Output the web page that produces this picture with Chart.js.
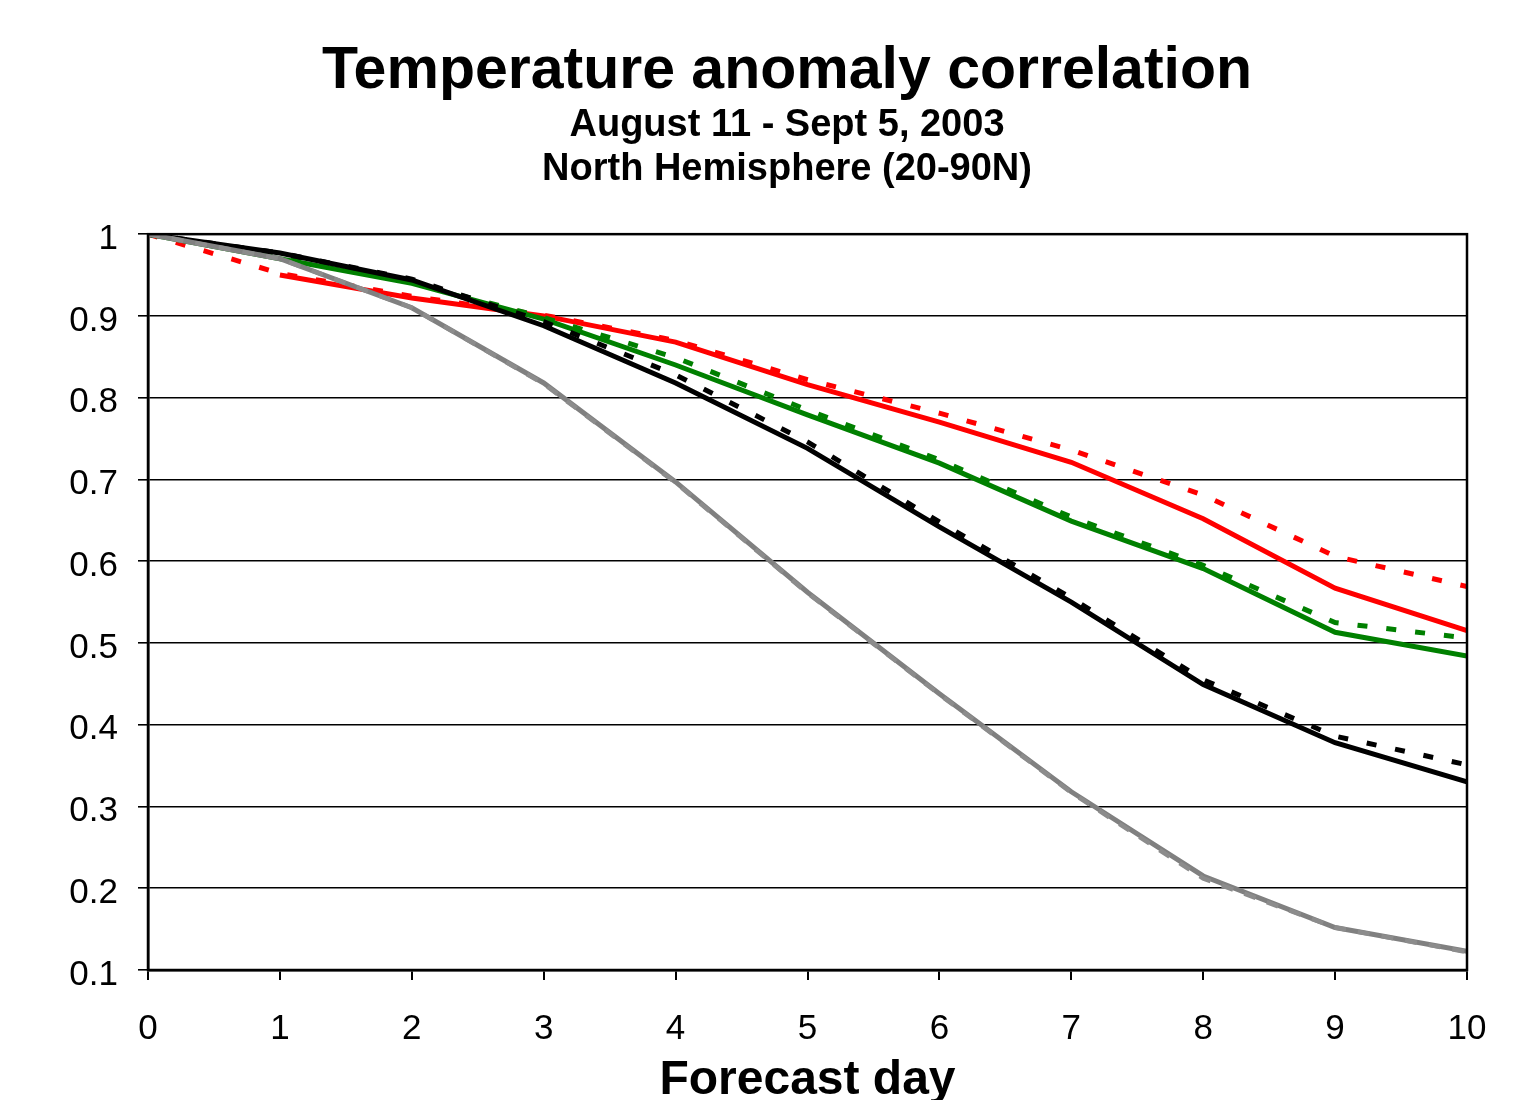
<!DOCTYPE html>
<html>
<head>
<meta charset="utf-8">
<script src="https://cdn.jsdelivr.net/npm/chart.js@4/dist/chart.umd.min.js"></script>
<style>
html,body{margin:0;padding:0;background:#fff;}
#wrap{width:1529px;height:1100px;}
</style>
</head>
<body>
<div id="wrap"><canvas id="c" width="1529" height="1100"></canvas></div>
<script>
const titleText = "Temperature anomaly correlation";
const subtitleLines = ["August 11 - Sept 5, 2003", "North Hemisphere (20-90N)"];
const xTitle = "Forecast day";
const days = [0, 1, 2, 3, 4, 5, 6, 7, 8, 9, 10];
const yTicks = [0.1, 0.2, 0.3, 0.4, 0.5, 0.6, 0.7, 0.8, 0.9, 1];

const redSolid   = [null, 0.950, 0.922, 0.900, 0.868, 0.816, 0.770, 0.721, 0.652, 0.567, 0.515];
const redDotted  = [1.000, 0.952, 0.924, 0.901, 0.870, 0.822, 0.781, 0.736, 0.681, 0.606, 0.569];
const greenSolid = [1.000, 0.970, 0.940, 0.896, 0.840, 0.779, 0.720, 0.649, 0.591, 0.513, 0.484];
const greenDotted= [1.000, 0.971, 0.941, 0.898, 0.849, 0.785, 0.724, 0.654, 0.595, 0.525, 0.506];
const blackSolid = [1.000, 0.977, 0.944, 0.888, 0.818, 0.738, 0.642, 0.550, 0.449, 0.378, 0.330];
const blackDotted= [1.000, 0.977, 0.945, 0.893, 0.828, 0.746, 0.648, 0.555, 0.455, 0.386, 0.351];
const graySolid  = [1.000, 0.970, 0.910, 0.818, 0.697, 0.562, 0.438, 0.318, 0.215, 0.152, 0.123];
const grayDashed = [1.000, 0.970, 0.910, 0.817, 0.696, 0.561, 0.437, 0.317, 0.212, 0.152, 0.122];

function pts(vals){ return days.map((d,i)=>({x:d, y:vals[i]})); }

const FONT = "'Liberation Sans', Arial, sans-serif";

const areaBorder = {
  id: 'areaBorder',
  afterDraw(chart){
    const {ctx, chartArea:{left,top,right,bottom}} = chart;
    ctx.save();
    ctx.strokeStyle = '#000';
    ctx.lineWidth = 2.5;
    ctx.strokeRect(left, top, right-left, bottom-top);
    ctx.restore();
  }
};

function ds(label, vals, color, dash, width){
  return {
    label, data: pts(vals), borderColor: color, backgroundColor: color,
    borderWidth: width || 5, borderDash: dash || [], pointRadius: 0,
    tension: 0, fill: false, spanGaps: false, borderCapStyle: 'butt',
    xAxisID: 'x', yAxisID: 'y'
  };
}

new Chart(document.getElementById('c'), {
  type: 'line',
  data: {
    datasets: [
      ds('Gray dashed', grayDashed, '#8c8c8c', [12, 12], 4.5),
      ds('Gray', graySolid, '#808080'),
      ds('Black dotted', blackDotted, '#000000', [10, 19]),
      ds('Black', blackSolid, '#000000'),
      ds('Green dotted', greenDotted, '#008000', [10, 19]),
      ds('Green', greenSolid, '#008000'),
      ds('Red dotted', redDotted, '#ff0000', [10, 19]),
      ds('Red', redSolid, '#ff0000')
    ]
  },
  options: {
    responsive: false,
    animation: false,
    devicePixelRatio: 1,
    layout: { padding: { top: 0, left: 45, right: 0, bottom: 0 } },
    plugins: {
      legend: { display: false },
      tooltip: { enabled: false },
      title: {
        display: true, text: titleText, color: '#000',
        font: { family: FONT, size: 59, weight: 'bold', lineHeight: 1.0 },
        padding: { top: 42, bottom: 0 }
      },
      subtitle: {
        display: true, text: subtitleLines, color: '#000',
        font: { family: FONT, size: 38, weight: 'bold', lineHeight: 1.16 },
        padding: { top: 2, bottom: 43 }
      }
    },
    scales: {
      x: {
        type: 'linear', min: 0, max: 10,
        afterFit(scale){ scale.height = 130; },
        ticks: { stepSize: 1, color: '#000', padding: 28, maxRotation: 0,
                 font: { family: FONT, size: 35 } },
        grid: { drawOnChartArea: false, drawTicks: true, tickLength: 10, color: '#000', lineWidth: 2 },
        border: { display: true, color: '#000', width: 2.5 },
        title: { display: true, text: xTitle, color: '#000',
                 font: { family: FONT, size: 48, weight: 'bold', lineHeight: 0.8 },
                 padding: { top: 0, bottom: 0 } }
      },
      y: {
        type: 'linear', min: 0.1, max: 1, position: 'left',
        afterFit(scale){ scale.width = 103; },
        afterBuildTicks(scale){ scale.ticks = yTicks.map(v => ({value: v})); },
        ticks: { color: '#000', padding: 20, labelOffset: 5,
                 font: { family: FONT, size: 35 },
                 callback: v => String(Number(v.toFixed(1))) },
        grid: { drawOnChartArea: true, drawTicks: true, tickLength: 10, color: '#000', lineWidth: 1.6 },
        border: { display: true, color: '#000', width: 2.5 }
      },
      yRight: {
        type: 'linear', min: 0.1, max: 1, position: 'right',
        afterFit(scale){ scale.width = 62; },
        ticks: { display: false },
        grid: { display: false },
        border: { display: false }
      }
    }
  },
  plugins: [areaBorder]
});
</script>
</body>
</html>
